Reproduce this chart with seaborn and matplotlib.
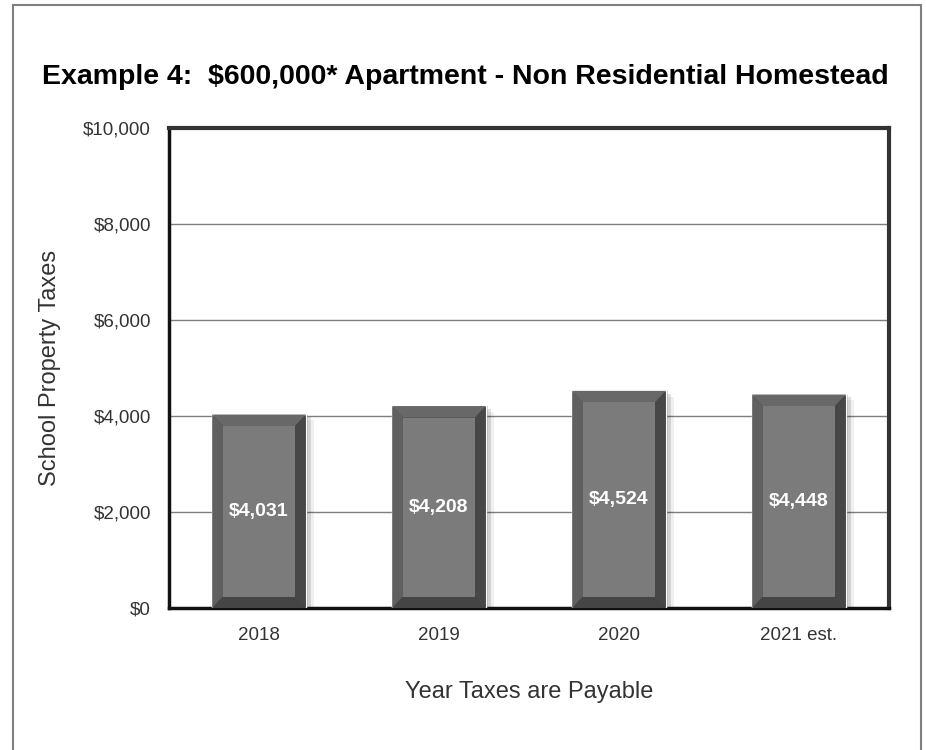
import matplotlib
matplotlib.use("Agg")
import matplotlib.pyplot as plt
import seaborn as sns
import pandas as pd
from matplotlib.patches import Polygon, Rectangle
from matplotlib.ticker import FuncFormatter

# data
years = ["2018", "2019", "2020", "2021 est."]
taxes = [4031, 4208, 4524, 4448]
value_labels = ["$4,031", "$4,208", "$4,524", "$4,448"]

df = pd.DataFrame({"year": years, "tax": taxes})

sns.set_style("white")
plt.rcParams["font.family"] = ["Liberation Sans", "DejaVu Sans"]

fig = plt.figure(figsize=(9.26, 7.5), dpi=100)
ax = fig.add_axes([0.1825, 0.1893, 0.7775, 0.64])

sns.barplot(data=df, x="year", y="tax", color="#4a4a4a", width=0.52,
            saturation=1, ax=ax, zorder=3)

# bevel effect on each bar
bx = 0.06   # bevel width in category units
by = 240    # bevel height in data units
for p, lab in zip(ax.patches, value_labels):
    x0, w, h = p.get_x(), p.get_width(), p.get_height()
    x1 = x0 + w
    # soft shadow on the right
    for k, a in enumerate([0.18, 0.12, 0.06]):
        ax.add_patch(Rectangle((x1, 0), 0.015 * (k + 1), h - 60 * k, color="#000000",
                               alpha=a, lw=0, zorder=2))
    faces = [
        ([(x0, h), (x1, h), (x1 - bx, h - by), (x0 + bx, h - by)], "#686868"),   # top
        ([(x0, 0), (x0, h), (x0 + bx, h - by), (x0 + bx, by)], "#606060"),       # left
        ([(x1, 0), (x1, h), (x1 - bx, h - by), (x1 - bx, by)], "#474747"),       # right
        ([(x0, 0), (x1, 0), (x1 - bx, by), (x0 + bx, by)], "#454545"),           # bottom
    ]
    for pts, c in faces:
        ax.add_patch(Polygon(pts, closed=True, color=c, lw=0, zorder=4))
    ax.add_patch(Rectangle((x0 + bx, by), w - 2 * bx, h - 2 * by, color="#7b7b7b",
                           lw=0, zorder=4))
    ax.text(x0 + w / 2, h / 2, lab, color="white", fontsize=14, fontweight="bold",
            ha="center", va="center", zorder=5)

ax.set_ylim(0, 10000)
ax.set_xlim(-0.5, 3.5)
ax.set_yticks(range(0, 10001, 2000))
ax.yaxis.set_major_formatter(FuncFormatter(lambda v, _: f"${v:,.0f}"))
ax.grid(axis="y", color="#7f7f7f", lw=1, zorder=0)
ax.set_axisbelow(True)

ax.set_xticks(range(len(years)))
ax.set_xticks([i - 0.5 for i in range(len(years) + 1)], minor=True)
ax.tick_params(axis="x", which="major", length=0, pad=14, labelsize=13.5, labelcolor="#333333")
ax.tick_params(axis="x", which="minor", length=7, width=1, color="#333333", direction="out")
ax.tick_params(axis="y", which="major", length=7, width=1, color="#333333", direction="out",
               pad=6, labelsize=13.5, labelcolor="#333333")

ax.set_xlabel("Year Taxes are Payable", fontsize=17, color="#333333", labelpad=26)
ax.set_ylabel("School Property Taxes", fontsize=17, color="#333333", labelpad=16)

for side in ["left", "bottom"]:
    ax.spines[side].set_linewidth(2.5)
    ax.spines[side].set_color("#111111")
for side in ["top", "right"]:
    ax.spines[side].set_visible(True)
    ax.spines[side].set_linewidth(3)
    ax.spines[side].set_color("#333333")

fig.text(0.503, 0.897, "Example 4:  $600,000* Apartment - Non Residential Homestead",
         ha="center", va="center", fontsize=20.5, fontweight="bold", color="black")

# outer frame
fig.add_artist(Rectangle((0.014, -0.02), 0.9806, 1.0133, transform=fig.transFigure,
                         fill=False, edgecolor="#7f7f7f", lw=1.5))

fig.savefig("out.png", dpi=100, facecolor="white")
